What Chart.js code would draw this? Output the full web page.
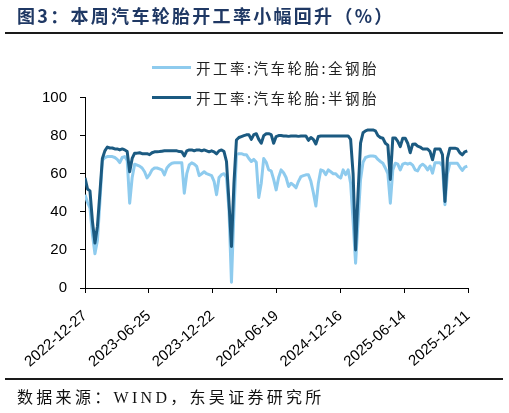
<!DOCTYPE html>
<html><head><meta charset="utf-8">
<script src="https://cdn.jsdelivr.net/npm/chart.js@4.4.1/dist/chart.umd.min.js"></script>
<style>
html,body{margin:0;padding:0;background:#fff;}
#wrap{position:relative;width:509px;height:413px;overflow:hidden;background:#fff;}
#chart{position:absolute;left:0;top:0;width:509px;height:413px;}
#title{position:absolute;left:17px;top:4px;font:700 18px/22px "Noto Sans CJK SC",sans-serif;color:#1f3864;letter-spacing:2.3px;white-space:nowrap;}
.rule{position:absolute;left:5px;width:498px;height:2px;background:#1a1a1a;}
#legend{position:absolute;left:152px;top:52px;font:14.5px "Noto Sans CJK SC",sans-serif;color:#222;}
.item{height:30px;display:flex;align-items:center;white-space:nowrap;letter-spacing:2.5px;}
.swatch{width:39px;height:3px;margin-right:5px;}
#source{position:absolute;left:17px;top:387px;font:16px/22px "Liberation Serif","Noto Sans CJK SC",serif;color:#111;letter-spacing:3.3px;white-space:nowrap;}
</style></head>
<body>
<div id="wrap">
<canvas id="chart" width="509" height="413"></canvas>
<div id="title">图3：本周汽车轮胎开工率小幅回升（%）</div>
<div class="rule" style="top:32px"></div>
<div id="legend"></div>
<div class="rule" style="top:378px"></div>
<div id="source">数据来源：WIND，东吴证券研究所</div>
</div>
<script>
// Weekly observations starting 2022-12-27 (x = days since start, 7-day steps)
const startDate = '2022-12-27';
const seriesNames = ['开工率:汽车轮胎:全钢胎', '开工率:汽车轮胎:半钢胎'];
const tickLabels = ['2022-12-27','2023-06-25','2023-12-22','2024-06-19','2024-12-16','2025-06-14','2025-12-11'];
const tickDays = [0,180,360,540,720,900,1080];
const yTicks = [0,20,40,60,80,100];

const allSteel = [
 49, 45, 42, 28, 18, 25, 45, 67, 68.5, 69,
 69, 69, 68.5, 67.5, 65.8, 68.5, 69, 67, 44.5, 58,
 65, 64.5, 64, 63, 61, 57.8, 59.5, 62, 63, 63,
 62.5, 62, 59.4, 63, 64.6, 65.5, 65.7, 65.7, 65.7, 65.7,
 49.8, 60, 64.6, 65.7, 65, 63.8, 59, 60, 61, 60,
 59.5, 59, 56, 49, 58, 59.5, 60, 58, 41, 3,
 40, 70, 70.5, 70.5, 70, 70, 68, 66.4, 67.5, 66,
 47.5, 55, 68, 66, 62, 61.5, 57, 51.5, 58, 62,
 60.5, 58, 53.3, 55, 54, 52.6, 56, 58.5, 59, 59.4,
 59.5, 56, 50, 43, 55, 62, 61.5, 59.5, 62, 61,
 60, 60, 58.5, 57.7, 62, 59.5, 62, 55, 35, 13,
 35, 57, 66, 68.5, 69, 69.3, 69.3, 69, 67.5, 66.4,
 65.5, 63, 60, 44.5, 62, 65.5, 65, 62, 65, 65.5,
 65, 65.5, 64.5, 62, 61.5, 64, 65, 64, 62, 64,
 60.3, 65.8, 65.8, 65.8, 64, 43.7, 60, 65.5, 65.5, 65.5,
 65.5, 63.5, 61.7, 63.5, 64
];
const semiSteel = [
 57.8, 52, 51, 35, 23.6, 32.3, 50, 68, 72, 74,
 73.5, 73.5, 73, 73, 72.5, 73, 72.5, 71.6, 61, 68,
 70.8, 70.8, 71, 70.5, 70.5, 70.5, 70, 71, 71.5, 71.5,
 71.6, 71.8, 72, 72, 72, 72, 72, 72, 71.6, 71.5,
 69.3, 72, 72.5, 72.5, 72, 72.5, 72.5, 72, 72.5, 72,
 71.5, 72, 71.5, 70.4, 72, 72.5, 71.6, 66.4, 45, 21.8,
 55, 77.7, 79, 79.5, 80, 80.4, 80.5, 78, 80.5, 81,
 78, 76, 80, 81, 81, 80.5, 76, 79.5, 80, 80,
 79.8, 79.8, 79.6, 79.8, 79.8, 79.8, 79.6, 79.8, 79.8, 79.8,
 77.5, 79, 78, 75.6, 79.5, 79.8, 79.8, 79.8, 79.8, 79.8,
 79.8, 79.8, 79.8, 79.8, 79.8, 79.8, 79.8, 78, 60, 20,
 50, 76, 81.5, 82.5, 83, 83, 83, 82.5, 80, 79,
 78.6, 76, 75, 57, 78.8, 78.8, 77, 74.2, 78.6, 78.6,
 76, 71, 75.5, 75.6, 74.5, 74, 73, 73, 73, 71.6,
 67.3, 73, 73, 73, 70, 45.4, 68, 73.4, 73.4, 73.4,
 73, 71, 69.9, 71.5, 72
];

const colors = ['#8ecbee', '#1b5a81'];
const fontNum = 'Liberation Sans, Arial, sans-serif';

// legend (HTML text)
const leg = document.getElementById('legend');
seriesNames.forEach((n, k) => {
  const it = document.createElement('div'); it.className = 'item';
  const sw = document.createElement('span'); sw.className = 'swatch'; sw.style.background = colors[k];
  const tx = document.createElement('span'); tx.textContent = n;
  it.appendChild(sw); it.appendChild(tx); leg.appendChild(it);
});

const toPts = arr => arr.map((v, i) => ({x: i * 7, y: v}));

new Chart(document.getElementById('chart'), {
  type: 'line',
  data: {
    datasets: [
      {label: seriesNames[1], data: toPts(semiSteel), borderColor: colors[1], borderWidth: 3,
       pointRadius: 0, tension: 0, order: 0, borderJoinStyle: 'round', fill: false},
      {label: seriesNames[0], data: toPts(allSteel), borderColor: colors[0], borderWidth: 3,
       pointRadius: 0, tension: 0, order: 1, borderJoinStyle: 'round', fill: false}
    ]
  },
  options: {
    responsive: false, animation: false,
    layout: {padding: {left: 0, top: 97.5, right: 41, bottom: 0}},
    plugins: {legend: {display: false}, tooltip: {enabled: false}},
    scales: {
      x: {
        type: 'linear', min: tickDays[0], max: tickDays[tickDays.length - 1],
        afterBuildTicks: s => { s.ticks = tickDays.map(v => ({value: v})); },
        afterFit: s => { s.height = 125; s.paddingLeft = 0; s.paddingRight = 0; },
        grid: {display: true, drawOnChartArea: false, drawTicks: true, tickLength: 5, color: '#000', lineWidth: 1},
        border: {display: true, color: '#000', width: 1},
        ticks: {autoSkip: false, maxRotation: 41, minRotation: 41, padding: 14, color: '#000',
          font: {family: fontNum, size: 15},
          callback: v => tickLabels[tickDays.indexOf(v)]}
      },
      y: {
        min: 0, max: 100,
        afterBuildTicks: s => { s.ticks = yTicks.map(v => ({value: v})); },
        afterFit: s => { s.width = 85; },
        grid: {display: true, drawOnChartArea: false, drawTicks: true, tickLength: 5, color: '#000', lineWidth: 1},
        border: {display: true, color: '#000', width: 1},
        ticks: {padding: 13, color: '#000', font: {family: fontNum, size: 15}}
      }
    }
  }
});
</script>
</body></html>
